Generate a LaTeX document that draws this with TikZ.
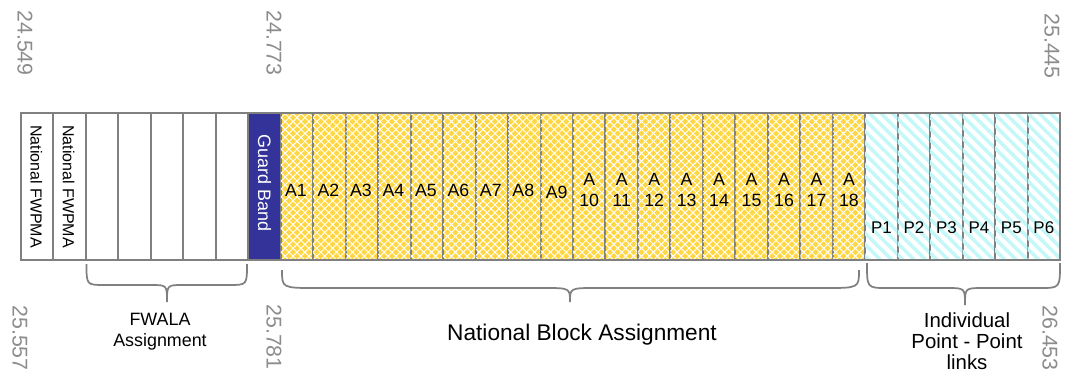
\documentclass[tikz,border=0pt]{standalone}
\usepackage{fontspec}
\setmainfont{Liberation Sans}
\usetikzlibrary{patterns.meta,calc}
\definecolor{bordergray}{HTML}{808080}
\definecolor{numgray}{HTML}{8C8C8C}
\definecolor{guardblue}{HTML}{333399}
\definecolor{goldbase}{HTML}{FFD743}
\definecolor{stripecol}{HTML}{C4F8F8}
\tikzset{
  cellbox/.style={rectangle, minimum width=24.35pt, minimum height=110.25pt, inner sep=0pt, outer sep=0pt, draw=bordergray, line width=1.5pt},
  plaincell/.style={cellbox, fill=white},
  guardcell/.style={cellbox, fill=guardblue},
  acell/.style={cellbox, fill=goldbase, postaction={pattern={Hatch[angle=45, distance=4.2pt, line width=0.7pt]}, pattern color=white}},
  pcell/.style={cellbox, fill=white, postaction={pattern={Lines[angle=-45, distance=6pt, line width=2.6pt]}, pattern color=stripecol}},
  numlab/.style={rotate=-90, text=numgray, font=\fontsize{16}{18}\selectfont, inner sep=0pt},
  rotlab/.style={rotate=-90, font=\fontsize{12}{14}\selectfont, inner sep=0pt},
  alab/.style={font=\fontsize{13.3}{15.75}\selectfont, align=center, inner sep=0pt},
  plab/.style={font=\fontsize{12.7}{15}\selectfont, inner sep=0pt},
  bracestyle/.style={draw=bordergray, line width=1.3pt},
}
\newcommand{\drawbrace}[8]{% x1 x2 yt yh xm ytip r1 r2
  \draw[bracestyle] (#1,#3) .. controls (#1,#4) and (#1,#4) .. ({#1+#7},#4) -- ({#5-#8},#4)
    .. controls (#5,#4) .. (#5,#6) .. controls (#5,#4) .. ({#5+#8},#4) -- ({#2-#7},#4)
    .. controls (#2,#4) and (#2,#4) .. (#2,#3);}
\begin{document}
\begin{tikzpicture}[x=0.75pt,y=-0.75pt]
\useasboundingbox (0,0) rectangle (1065,375);
% cells
\foreach \i in {0,1,2,3,4,5,6}
  \node[plaincell] (c\i) at ({21+32.47*\i+16.235},186.5) {};
\node[guardcell] (c7) at ({21+32.47*7+16.235},186.5) {};
\foreach \i in {8,...,25}
  \node[acell] (c\i) at ({21+32.47*\i+16.235},186.5) {};
\foreach \i in {26,...,31}
  \node[pcell] (c\i) at ({21+32.47*\i+16.235},186.5) {};
% outer frame
\draw[draw=bordergray, line width=1.5pt] (c0.north west) rectangle (c31.south east);
% labels in cells
\node[rotlab] (l0) at ($(c0)+(-1,0)$) {National FWPMA};
\node[rotlab] (l1) at ($(c1)+(-1,0)$) {National FWPMA};
\node[rotlab, text=white, font=\fontsize{13.5}{16}\selectfont] (lg) at ($(c7)+(0,-3.5)$) {Guard Band};
\foreach \i/\t in {8/A1,9/A2,10/A3,11/A4,12/A5,13/A6,14/A7,15/A8}
  \node[alab] (l\i) at ($(c\i)+(-1,3.5)$) {\t};
\node[alab] (l16) at ($(c16)+(0,5.5)$) {A9};
\foreach \i/\t in {17/10,18/11,19/12,20/13,21/14,22/15,23/16,24/17,25/18}
  \node[alab] (l\i) at ($(c\i)+(0,3)$) {A\\\t};
\foreach \i/\t in {26/P1,27/P2,28/P3,29/P4,30/P5,31/P6}
  \node[plab] (l\i) at ($(c\i)+(0,41.5)$) {\t};
% frequency numbers
\node[numlab] (n1) at (25,43) {24.549};
\node[numlab] (n2) at (274,43) {24.773};
\node[numlab] (n3) at (1052,46) {25.445};
\node[numlab] (n4) at (20,338) {25.557};
\node[numlab] (n5) at (274,337) {25.781};
\node[numlab] (n6) at (1050,338) {26.453};
% braces
\drawbrace{86.5}{247}{264}{285}{167}{302}{18}{16}
\drawbrace{282}{859}{270}{288}{570}{302}{34}{26}
\drawbrace{867}{1060}{263}{288}{965}{305}{20}{18}
% brace texts
\node[font=\fontsize{13.4}{15.75}\selectfont, align=center, inner sep=0pt] (t1) at (160,332) {FWALA\\Assignment};
\node[font=\fontsize{17}{20}\selectfont, inner sep=0pt] (t2) at (582,335) {National Block Assignment};
\node[font=\fontsize{15.3}{15.9}\selectfont, align=center, inner sep=0pt] (t3) at (967,341) {Individual\\Point - Point\\links};
\end{tikzpicture}
\end{document}
